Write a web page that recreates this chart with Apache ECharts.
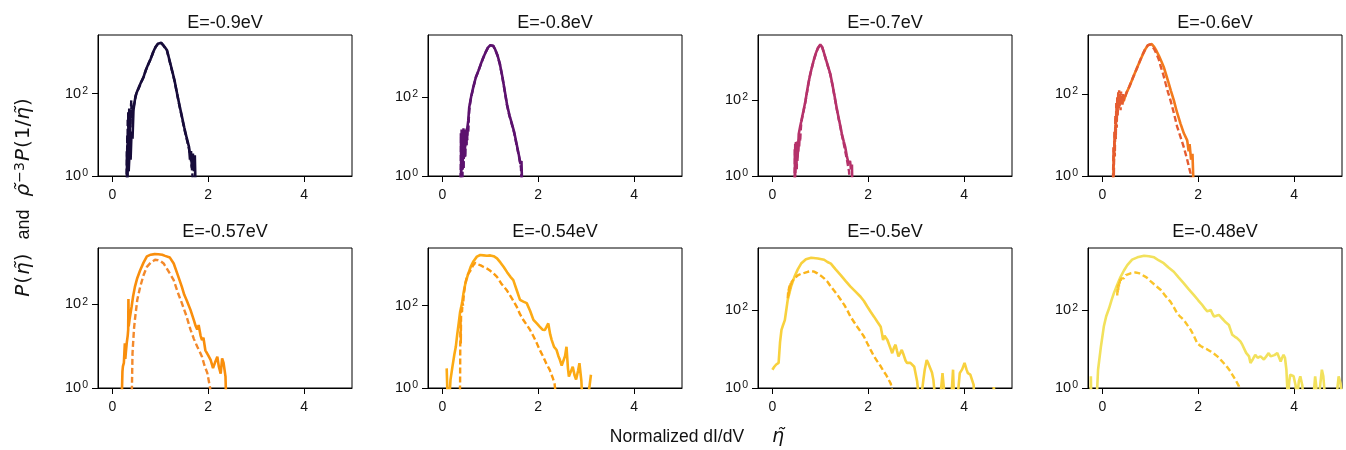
<!DOCTYPE html>
<html><head><meta charset="utf-8">
<script src="https://cdn.jsdelivr.net/npm/echarts@6/dist/echarts.min.js"></script>
<style>html,body{margin:0;padding:0;background:#fff}#c{width:1346px;height:450px}</style>
</head><body><div id="c"></div>
<script>
// ---------- data ----------
const titles = ['E=-0.9eV','E=-0.8eV','E=-0.7eV','E=-0.6eV','E=-0.57eV','E=-0.54eV','E=-0.5eV','E=-0.48eV'];
const xTicks = [0, 2, 4];
const yTicks = [1, 100];
const yTickExp = {1: '0', 100: '2'};
const xMin = -0.3, xMax = 5;
const yMin = 1;
const yMax = [2630, 3630, 5010, 2750, 2240, 2510, 3890, 3980];

// P(eta) : solid ; rho^-3 P(1/eta) : dashed
const solid_090 = [[0.30,0.3],[0.32,2],[0.34,1.3],[0.36,4],[0.38,2.5],[0.40,12],[0.42,8],[0.44,40],[0.47,70],[0.50,100],[0.55,140],[0.60,190],[0.65,250],[0.70,380],[0.75,520],[0.80,700],[0.85,1000],[0.90,1350],[0.95,1620],[0.98,1740],[1.02,1700],[1.06,1500],[1.10,1300],[1.14,1120],[1.20,590],[1.25,347],[1.30,200],[1.35,100],[1.40,52],[1.45,28],[1.50,15],[1.55,8.5],[1.60,5],[1.62,2.5],[1.64,4],[1.66,1.6],[1.68,3.5],[1.70,1.3],[1.72,3.2],[1.74,0.3]];
const dash_090 = [[0.29,0.4],[0.30,4],[0.305,0.6],[0.31,10],[0.315,0.8],[0.32,25],[0.325,1.2],[0.33,35],[0.335,2],[0.34,20],[0.345,3],[0.35,44],[0.355,5],[0.36,30],[0.365,8],[0.37,40],[0.38,15],[0.39,55],[0.395,69],[0.40,25],[0.41,35],[0.42,50],[0.43,38],[0.44,45],[0.46,60],[0.48,85],[0.50,100],[0.55,135],[0.60,185],[0.65,250],[0.70,370],[0.75,510],[0.80,690],[0.85,990],[0.90,1330],[0.95,1600],[0.98,1720],[1.02,1680],[1.06,1480],[1.10,1280],[1.14,1080],[1.20,570],[1.25,335],[1.30,195],[1.35,98],[1.40,50],[1.45,27],[1.50,14],[1.55,8],[1.60,4.5],[1.63,3],[1.66,1.5],[1.70,0.4]];

const solid_080 = [[0.38,0.3],[0.40,3],[0.42,1.5],[0.44,8],[0.46,3],[0.48,12],[0.50,6],[0.52,16],[0.54,25],[0.56,54],[0.60,100],[0.65,186],[0.70,316],[0.75,447],[0.80,660],[0.85,955],[0.90,1320],[0.95,1740],[1.00,1995],[1.03,2040],[1.06,1950],[1.10,1585],[1.15,1120],[1.20,676],[1.25,331],[1.30,145],[1.35,63],[1.40,34],[1.45,21],[1.50,12.6],[1.55,6.3],[1.60,3.2],[1.63,2],[1.65,2.4],[1.67,0.3]];
const dash_080 = [[0.38,0.5],[0.385,12],[0.39,1],[0.40,15],[0.405,2],[0.41,10],[0.42,0.8],[0.425,14],[0.43,3],[0.44,16],[0.445,1.5],[0.45,12],[0.46,5],[0.47,15],[0.48,3],[0.49,14],[0.50,6],[0.51,16],[0.52,8],[0.53,18],[0.54,12],[0.55,25],[0.56,45],[0.58,70],[0.60,98],[0.65,180],[0.70,310],[0.75,440],[0.80,650],[0.85,940],[0.90,1300],[0.95,1720],[1.00,1980],[1.03,2020],[1.06,1930],[1.10,1560],[1.15,1100],[1.20,660],[1.25,320],[1.30,140],[1.35,60],[1.40,33],[1.45,20],[1.50,12],[1.55,6],[1.60,3],[1.64,1.6],[1.66,0.3]];

const solid_070 = [[0.46,0.3],[0.48,2],[0.50,4],[0.52,2.5],[0.54,6],[0.55,12.6],[0.58,20],[0.60,26],[0.62,35],[0.65,52],[0.69,93],[0.72,158],[0.75,263],[0.79,468],[0.83,760],[0.87,1175],[0.91,1700],[0.95,2290],[1.00,2820],[1.04,2400],[1.08,1660],[1.12,1120],[1.16,760],[1.21,468],[1.25,263],[1.29,141],[1.34,63],[1.38,35],[1.42,20],[1.45,12.6],[1.49,8],[1.52,5.75],[1.55,3.5],[1.59,2.1],[1.62,2.5],[1.64,1.5],[1.66,2],[1.67,0.3]];
const dash_070 = [[0.46,0.4],[0.465,5],[0.47,0.8],[0.475,7],[0.48,1.2],[0.49,8.5],[0.495,2],[0.50,6],[0.51,1.5],[0.515,8],[0.52,3],[0.53,7.5],[0.54,4],[0.55,9],[0.56,6],[0.57,11],[0.58,8],[0.59,15],[0.60,22],[0.62,33],[0.65,50],[0.69,90],[0.72,150],[0.75,255],[0.79,460],[0.83,740],[0.87,1150],[0.91,1680],[0.95,2250],[1.00,2780],[1.04,2380],[1.08,1640],[1.12,1100],[1.16,740],[1.21,455],[1.25,255],[1.29,135],[1.34,60],[1.38,33],[1.42,19],[1.45,12],[1.49,7],[1.52,4.5],[1.56,2.5],[1.60,1.3],[1.62,0.3]];

const solid_060 = [[0.22,0.3],[0.24,3],[0.26,8],[0.28,20],[0.30,35],[0.32,50],[0.34,45],[0.36,60],[0.38,55],[0.40,65],[0.42,62],[0.45,71],[0.50,105],[0.56,148],[0.65,270],[0.73,457],[0.80,708],[0.85,955],[0.90,1260],[0.95,1550],[0.99,1700],[1.03,1650],[1.08,1410],[1.13,1120],[1.18,850],[1.23,630],[1.28,457],[1.33,295],[1.38,190],[1.43,120],[1.49,71],[1.55,38],[1.63,19],[1.70,11],[1.77,7.4],[1.80,4],[1.82,6],[1.85,2.5],[1.88,3.5],[1.91,0.3]];
const dash_060 = [[0.22,0.5],[0.23,5],[0.24,1],[0.25,12],[0.26,3],[0.27,30],[0.28,8],[0.29,60],[0.30,15],[0.31,90],[0.32,30],[0.33,110],[0.34,45],[0.35,123],[0.36,50],[0.37,100],[0.38,40],[0.39,115],[0.40,60],[0.41,90],[0.42,55],[0.43,105],[0.45,70],[0.48,90],[0.52,120],[0.56,150],[0.65,270],[0.73,450],[0.80,720],[0.85,980],[0.90,1300],[0.95,1550],[1.00,1620],[1.04,1500],[1.08,1250],[1.13,950],[1.18,680],[1.22,457],[1.27,300],[1.32,180],[1.37,110],[1.42,71],[1.49,35],[1.56,16],[1.63,9],[1.70,5],[1.77,2.5],[1.84,1.15],[1.87,0.3]];

const solid_057 = [[0.19,0.3],[0.21,2.5],[0.22,3.3],[0.24,4],[0.26,11.7],[0.27,5],[0.28,6.8],[0.30,12],[0.32,18],[0.33,25],[0.335,135],[0.34,30],[0.36,45],[0.38,62],[0.40,87],[0.43,150],[0.47,263],[0.52,430],[0.58,660],[0.65,1000],[0.72,1410],[0.80,1550],[0.88,1600],[0.96,1585],[1.04,1540],[1.10,1450],[1.14,1510],[1.20,1320],[1.28,955],[1.36,525],[1.45,263],[1.50,170],[1.55,126],[1.63,74],[1.70,42],[1.74,30],[1.77,25],[1.80,32],[1.84,18],[1.87,14],[1.90,16],[1.94,8],[2.00,6],[2.05,4.7],[2.10,3],[2.14,4],[2.19,5.6],[2.22,3.3],[2.26,2.2],[2.29,5.1],[2.32,4],[2.36,1.9],[2.38,0.3]];
const dash_057 = [[0.40,0.3],[0.42,6.8],[0.45,25],[0.47,43],[0.52,130],[0.58,263],[0.65,500],[0.72,794],[0.80,1000],[0.89,1175],[0.95,1150],[1.00,1100],[1.07,955],[1.15,676],[1.22,500],[1.28,380],[1.36,200],[1.45,107],[1.54,55],[1.63,25],[1.70,15],[1.77,9.8],[1.82,7.5],[1.87,5.6],[1.92,3.5],[1.98,2.3],[2.04,1],[2.06,0.3]];

const solid_054 = [[0.09,3],[0.10,2.8],[0.12,0.2],[0.15,0.2],[0.17,1.6],[0.21,3.3],[0.25,6.5],[0.28,10],[0.31,20],[0.34,37],[0.37,70],[0.41,115],[0.44,200],[0.48,347],[0.53,550],[0.59,870],[0.65,1200],[0.72,1550],[0.79,1700],[0.86,1660],[0.93,1620],[1.00,1660],[1.07,1585],[1.14,1410],[1.21,1120],[1.28,870],[1.35,650],[1.42,500],[1.48,417],[1.55,240],[1.62,138],[1.69,125],[1.76,115],[1.83,75],[1.90,45],[1.97,37],[2.03,31],[2.09,26],[2.14,25.7],[2.17,30],[2.21,37],[2.25,20],[2.28,14.8],[2.33,10],[2.38,8.5],[2.42,6],[2.45,4.9],[2.49,3.5],[2.52,3.3],[2.56,6],[2.59,10],[2.62,3],[2.64,1.9],[2.68,2.5],[2.72,3.3],[2.76,2],[2.79,1.6],[2.83,2.6],[2.86,4],[2.90,1.5],[2.93,0.3],[3.00,0.3],[3.07,1.1],[3.10,2.1]];
const dash_054 = [[0.36,0.3],[0.37,1.5],[0.375,30],[0.38,45],[0.385,12],[0.39,60],[0.40,90],[0.41,70],[0.42,120],[0.43,100],[0.45,200],[0.48,350],[0.52,550],[0.59,724],[0.64,950],[0.69,1100],[0.75,1000],[0.80,950],[0.86,870],[0.93,794],[1.00,700],[1.07,600],[1.14,500],[1.24,330],[1.34,240],[1.45,150],[1.55,95],[1.62,62],[1.69,44.7],[1.76,34],[1.83,25.7],[1.90,18],[1.97,12.3],[2.03,8.5],[2.10,5.9],[2.17,3.9],[2.24,2.75],[2.30,1.8],[2.34,1.3],[2.38,0.5]];

const solid_050 = [[0.00,2.95],[0.04,3.5],[0.08,4],[0.13,4.4],[0.16,15],[0.19,31],[0.22,40],[0.26,55],[0.29,100],[0.32,182],[0.39,400],[0.46,708],[0.53,1100],[0.60,1550],[0.70,2000],[0.81,2190],[0.95,2100],[1.08,1950],[1.15,1700],[1.22,1550],[1.32,1100],[1.43,776],[1.53,550],[1.63,398],[1.73,300],[1.84,219],[1.91,170],[1.98,123],[2.05,90],[2.12,67.6],[2.19,50],[2.26,37.2],[2.29,24],[2.31,17],[2.34,22],[2.36,22.9],[2.40,17],[2.43,17],[2.47,10],[2.50,7.8],[2.54,11],[2.57,12.9],[2.60,9],[2.63,6.5],[2.67,8],[2.70,9.5],[2.74,7],[2.78,5],[2.81,4.4],[2.85,4.4],[2.88,4.4],[2.92,4],[2.96,3.5],[3.02,1.5],[3.08,0.3],[3.15,1.6],[3.18,3],[3.22,5.2],[3.25,4.4],[3.29,4.4],[3.33,2.5],[3.36,1.6],[3.40,0.5],[3.43,0.3],[3.50,0.5],[3.55,2.4],[3.57,2.4],[3.60,0.5],[3.67,0.3],[3.72,0.3],[3.77,2.95],[3.79,0.5],[3.81,0.3],[3.86,0.5],[3.91,2.4],[3.96,3],[4.01,4.4],[4.05,3],[4.08,2.4],[4.13,2.2],[4.17,2.2],[4.20,1.2],[4.22,0.3],[4.60,0.3],[4.62,1.05],[4.66,1.05],[4.68,0.3]];
const dash_050 = [[0.32,200],[0.33,300],[0.335,230],[0.34,350],[0.345,260],[0.35,400],[0.355,300],[0.36,430],[0.37,350],[0.38,480],[0.39,420],[0.40,520],[0.42,560],[0.46,650],[0.53,776],[0.60,850],[0.67,900],[0.74,955],[0.81,1000],[0.87,960],[0.94,870],[1.01,760],[1.08,646],[1.15,530],[1.22,398],[1.29,310],[1.36,240],[1.43,180],[1.50,135],[1.57,95],[1.63,67.6],[1.70,50],[1.77,37.2],[1.84,28],[1.91,20.9],[1.98,14],[2.05,9.5],[2.12,6.5],[2.19,4.8],[2.26,3.6],[2.32,2.7],[2.38,2.1],[2.43,1.6],[2.47,1.3],[2.50,1.23],[2.54,0.5]];

const solid_048 = [[-0.25,0.3],[-0.24,2],[-0.23,0.3],[-0.15,0.3],[-0.12,0.5],[-0.09,2.95],[-0.03,11.7],[0.03,38],[0.08,70],[0.14,112],[0.19,180],[0.24,275],[0.31,450],[0.38,724],[0.45,1050],[0.52,1445],[0.62,2000],[0.73,2290],[0.87,2510],[0.97,2450],[1.08,2290],[1.18,1900],[1.28,1620],[1.38,1250],[1.49,977],[1.59,700],[1.70,490],[1.80,350],[1.91,245],[2.00,180],[2.08,138],[2.14,110],[2.19,93],[2.23,102],[2.26,102],[2.30,80],[2.33,69],[2.38,72],[2.43,76],[2.48,65],[2.53,56],[2.58,48],[2.64,41.7],[2.68,30],[2.71,23.4],[2.76,21],[2.81,19.1],[2.85,17],[2.88,15.8],[2.92,13],[2.95,11.7],[3.00,8],[3.06,6.5],[3.09,4.4],[3.14,5.5],[3.19,7.1],[3.24,6],[3.30,6.5],[3.34,6],[3.37,5.4],[3.42,6.5],[3.47,7.9],[3.51,6.5],[3.54,5.9],[3.59,7],[3.65,7.9],[3.69,6],[3.72,4.8],[3.75,6],[3.78,7.1],[3.81,6],[3.84,2.95],[3.87,0.5],[3.90,1.5],[3.92,2.2],[3.96,2],[3.99,2],[4.03,1.2],[4.06,0.5],[4.10,1.5],[4.13,2],[4.17,1.2],[4.20,0.5],[4.30,0.3],[4.40,0.5],[4.44,2],[4.46,1.2],[4.48,0.5],[4.53,0.8],[4.58,2.95],[4.61,2],[4.65,0.5],[4.72,0.3],[4.86,0.3],[4.93,2],[4.97,1.3],[5.00,0.5]];
const dash_048 = [[0.31,240],[0.315,380],[0.32,280],[0.325,450],[0.33,320],[0.34,500],[0.345,400],[0.35,560],[0.36,480],[0.37,620],[0.38,540],[0.39,660],[0.40,600],[0.42,700],[0.45,660],[0.49,800],[0.52,850],[0.59,891],[0.69,933],[0.76,900],[0.83,813],[0.92,700],[1.01,550],[1.11,430],[1.22,331],[1.32,230],[1.42,166],[1.49,120],[1.56,83],[1.63,67],[1.70,56],[1.77,42],[1.84,31.6],[1.91,22],[1.98,14.1],[2.05,12],[2.12,10.7],[2.19,9.8],[2.26,8.7],[2.33,7.6],[2.40,6.5],[2.47,5.3],[2.53,4.4],[2.60,3.5],[2.67,2.7],[2.72,2.1],[2.78,1.6],[2.82,1.3],[2.85,1.1],[2.88,0.5]];

const solids = [solid_090, solid_080, solid_070, solid_060, solid_057, solid_054, solid_050, solid_048];
const dashes = [dash_090, dash_080, dash_070, dash_060, dash_057, dash_054, dash_050, dash_048];

// ---------- styles / layout ----------
const solidColors = ['#170c3a','#5c126e','#b5326a','#f37a1c','#f98e0c','#fcaa14','#f8d13e','#f2e15c'];
const dashColors  = ['#170c3a','#5c126e','#b5326a','#e55c30','#f3892b','#fb9b0f','#fbb41a','#fac42a'];
const FONT = "'Liberation Sans', Arial, Helvetica, sans-serif";
const MATH = "'DejaVu Sans', sans-serif";
const colLeft = [98, 428, 758, 1088];
const rowTop = [35, 248];
const titleTop = [14, 223];
const plotW = 254, plotH = 141;

const grid = [], xAxis = [], yAxis = [], series = [], title = [];
for (let i = 0; i < 8; i++) {
  const c = i % 4, r = Math.floor(i / 4);
  grid.push({left: colLeft[c], top: rowTop[r], width: plotW, height: plotH - r,
    show: true, borderColor: '#000', borderWidth: 1, backgroundColor: 'transparent'});
  xAxis.push({type: 'value', gridIndex: i, min: xMin, max: xMax,
    axisLine: {onZero: false, lineStyle: {color: '#000', width: 1}},
    axisTick: {length: 6, lineStyle: {color: '#000'}, customValues: xTicks},
    axisLabel: {customValues: xTicks, margin: 12, fontSize: 14, color: '#111', fontFamily: FONT},
    splitLine: {show: false}});
  yAxis.push({type: 'log', logBase: 10, gridIndex: i, min: yMin, max: yMax[i],
    axisLine: {onZero: false, lineStyle: {color: '#000', width: 1}},
    axisTick: {length: 6, lineStyle: {color: '#000'}, customValues: yTicks},
    axisLabel: {customValues: yTicks, margin: 10, color: '#111',
      formatter: v => '{b|10}{s|' + (yTickExp[Math.round(v)] || '') + '}',
      rich: {b: {fontSize: 14.5, fontFamily: FONT, color: '#111'},
             s: {fontSize: 10.5, fontFamily: FONT, color: '#111', verticalAlign: 'top', padding: [0, 0, 5, 1]}}},
    minorTick: {show: false}, splitLine: {show: false}});
  title.push({text: titles[i], left: colLeft[c] + plotW / 2, top: titleTop[r], textAlign: 'center', padding: 0,
    textStyle: {fontSize: 18, fontWeight: 'normal', color: '#111', fontFamily: FONT}});
  series.push({type: 'line', name: titles[i] + ' P', xAxisIndex: i, yAxisIndex: i, data: solids[i],
    showSymbol: false, symbol: 'none', clip: true, z: 2,
    lineStyle: {color: solidColors[i], width: 2.6}, itemStyle: {color: solidColors[i]}});
  series.push({type: 'line', name: titles[i] + ' rho', xAxisIndex: i, yAxisIndex: i, data: dashes[i],
    showSymbol: false, symbol: 'none', clip: true, z: 3,
    lineStyle: {color: dashColors[i], width: 2.4, type: [6, 3]}, itemStyle: {color: dashColors[i]}});
}

const chart = echarts.init(document.getElementById('c'), null, {renderer: 'canvas'});
chart.setOption({
  animation: false, backgroundColor: '#fff',
  title, grid, xAxis, yAxis, series,
  graphic: [
    {type: 'text', x: 697, y: 437, style: {
      text: '{a|Normalized dI/dV}{b|η̃}', textAlign: 'center', textVerticalAlign: 'middle',
      rich: {a: {fontSize: 17.5, fontFamily: FONT, fill: '#111'},
             b: {fontSize: 19, fontFamily: MATH, fontStyle: 'italic', fill: '#111', padding: [0, 0, 0, 28]}}}},
    {type: 'text', x: 24, y: 197, rotation: Math.PI / 2, style: {
      text: '{i|P}{p|(}{i|η̃}{p|)}{n|and}{i|ρ̃}{s|−3}{i|P}{p|(}{m|1/}{i|η̃}{p|)}', textAlign: 'center', textVerticalAlign: 'middle',
      rich: {i: {fontSize: 20, fontStyle: 'italic', fontFamily: MATH, fill: '#111'},
             m: {fontSize: 20, fontFamily: MATH, fill: '#111'},
             p: {fontSize: 20, fontFamily: MATH, fill: '#111', padding: [0, 1, 0, 1]},
             n: {fontSize: 18, fontFamily: FONT, fill: '#111', padding: [0, 13, 0, 13]},
             s: {fontSize: 14, fontFamily: MATH, fill: '#111', verticalAlign: 'top', padding: [0, 1, 8, 1]}}}}
  ]
});
</script></body></html>
